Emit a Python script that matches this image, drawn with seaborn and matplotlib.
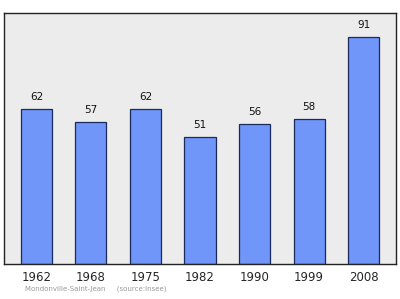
import matplotlib
matplotlib.use("Agg")
import matplotlib.pyplot as plt
import seaborn as sns
import pandas as pd

years = ["1962", "1968", "1975", "1982", "1990", "1999", "2008"]
population = [62, 57, 62, 51, 56, 58, 91]

df = pd.DataFrame({"year": years, "pop": population})

sns.set_style("white")
plt.rcParams['font.family'] = ['DejaVu Sans']

fig = plt.figure(figsize=(4, 2.99), dpi=100)
ax = fig.add_axes([0.01, 0.117, 0.98, 0.8395])
ax.set_facecolor("#ececec")

sns.barplot(data=df, x="year", y="pop", color="#6f96f8", width=0.57,
            edgecolor="#1a2a5a", linewidth=0.9, saturation=1, ax=ax)

for i, v in enumerate(population):
    ax.text(i, v + 2.8, str(v), ha="center", va="bottom", fontsize=7.5, color="#111111")

ax.set_ylim(0, 100.4)
ax.set_xlim(-0.594, 6.594)
ax.set_yticks([])
ax.set_xlabel("")
ax.set_ylabel("")
ax.tick_params(axis="x", length=0, labelsize=8.5, pad=5)
for s in ax.spines.values():
    s.set_visible(True)
    s.set_color("#222222")
    s.set_linewidth(1.0)

fig.text(0.062, 0.022, "Mondonville-Saint-Jean     (source:Insee)", fontsize=5,
         color="#999999", ha="left", va="bottom")

fig.savefig("out.png", dpi=100)
